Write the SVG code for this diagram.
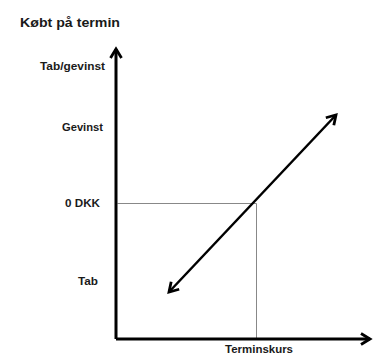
<svg xmlns="http://www.w3.org/2000/svg" width="374" height="354" viewBox="0 0 374 354">
<style>
text{font-family:"Liberation Sans",Arial,sans-serif;font-weight:bold;fill:#1a1a1a}
.axis{stroke:#000;stroke-width:3;fill:none}
.guide{stroke:#888;stroke-width:1;fill:none}
.diag{stroke:#000;stroke-width:2.5;fill:none}
</style>
<defs>
<marker id="ah" markerUnits="userSpaceOnUse" markerWidth="14" markerHeight="14" viewBox="-12 -7 14 14" refX="0" refY="0" orient="auto-start-reverse" overflow="visible">
<path d="M-9,-5.5 L0,0 L-9,5.5" fill="none" stroke="#000" stroke-width="2.8" stroke-linejoin="miter"/>
</marker>
</defs>
<rect width="374" height="354" fill="#fff"/>
<text x="20" y="27" font-size="12" textLength="100" lengthAdjust="spacingAndGlyphs">Købt på termin</text>
<g id="labels">
<text id="l-tabgevinst" x="40" y="70" font-size="10" textLength="65" lengthAdjust="spacingAndGlyphs">Tab/gevinst</text>
<text id="l-gevinst" x="62" y="131" font-size="10" textLength="41" lengthAdjust="spacingAndGlyphs">Gevinst</text>
<text id="l-0dkk" x="65" y="207" font-size="10" textLength="35" lengthAdjust="spacingAndGlyphs">0 DKK</text>
<text id="l-tab" x="78" y="285" font-size="10" textLength="20" lengthAdjust="spacingAndGlyphs">Tab</text>
<text id="l-terminskurs" x="225" y="353" font-size="10" textLength="68" lengthAdjust="spacingAndGlyphs">Terminskurs</text>
</g>
<g id="connectors">
<path class="guide" d="M117.5,203.5 H256.5 V338"/>
<path class="axis" d="M116,339 V49" marker-end="url(#ah)"/>
<path class="axis" d="M116,339 H370" marker-end="url(#ah)"/>
<path class="diag" d="M169,292 L336,115" marker-start="url(#ah)" marker-end="url(#ah)"/>
</g>
</svg>
